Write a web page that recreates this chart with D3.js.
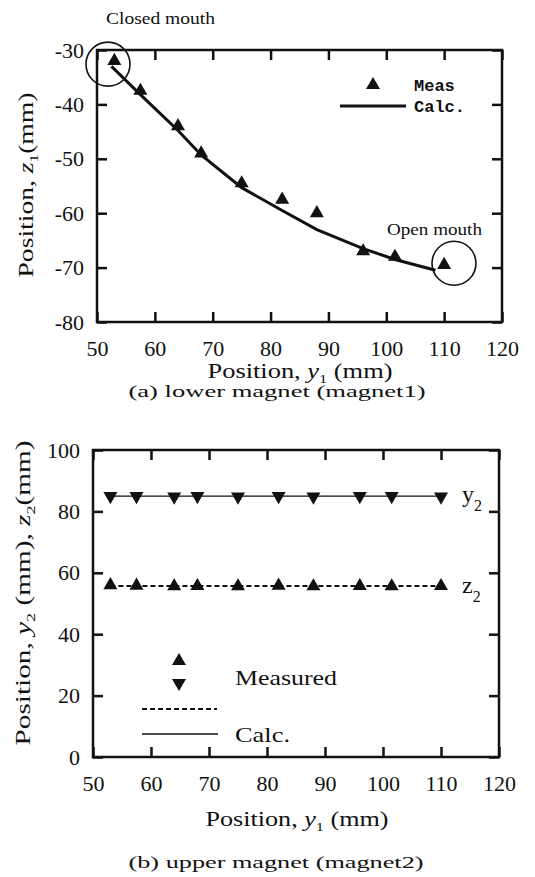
<!DOCTYPE html>
<html>
<head>
<meta charset="utf-8">
<script src="https://cdn.jsdelivr.net/npm/d3@7"></script>
<style>
  body { margin: 0; background: #fff; }
  svg text { font-family: "Liberation Serif", "Times New Roman", serif; fill: #111; }
</style>
</head>
<body>
<svg width="535" height="877"></svg>
<script>
// shared x positions (y1, mm)
const xTicks = [50, 60, 70, 80, 90, 100, 110, 120]
const measY1 = [53, 57.5, 64, 68, 75, 82, 88, 96, 101.5, 110]

// (a) lower magnet
const measZ1 = [-32, -37.5, -44, -49, -54.5, -57.5, -60, -67, -68, -69.5]
const calcY1 = [52.5, 57.5, 64, 68, 75, 82, 88, 96, 101.5, 108.5]
const calcZ1 = [-33, -38.2, -44.8, -49.3, -55.3, -59.5, -63, -66.5, -68.5, -70.5]
const z1Ticks = [-30, -40, -50, -60, -70, -80]

// (b) upper magnet
const measY2 = [85, 85, 84.8, 85, 84.8, 85, 84.8, 85, 85, 84.8]
const measZ2 = [56, 55.8, 55.6, 55.7, 55.6, 55.8, 55.6, 55.7, 55.6, 55.7]
const calcX2 = [53, 110]
const calcY2 = [85, 85]
const calcZ2 = [55.7, 55.7]
const yzTicks = [0, 20, 40, 60, 80, 100]

const svg = d3.select('svg')
const tri = d3.symbol().type(d3.symbolTriangle).size(85)
const serif = '"Liberation Serif", "Times New Roman", serif'

const frame = (x, y, ticksY) => {
  const g = svg.append('g')
  const tick = 10
  g.append('g')
   .attr('transform', `translate(0,${y.range()[0]})`)
   .call(d3.axisBottom(x).tickValues(xTicks).tickSizeInner(-tick).tickSizeOuter(0).tickPadding(18).tickFormat(d => `${d}`))
  g.append('g')
   .attr('transform', `translate(0,${y.range()[1]})`)
   .call(d3.axisTop(x).tickValues(xTicks).tickSizeInner(-tick).tickSizeOuter(0).tickFormat(''))
  g.append('g')
   .attr('transform', `translate(${x.range()[0]},0)`)
   .call(d3.axisLeft(y).tickValues(ticksY).tickSizeInner(-tick).tickSizeOuter(0).tickPadding(13).tickFormat(d => `${d}`))
  g.append('g')
   .attr('transform', `translate(${x.range()[1]},0)`)
   .call(d3.axisRight(y).tickValues(ticksY).tickSizeInner(-tick).tickSizeOuter(0).tickFormat(''))
  g.selectAll('.domain').remove()
  g.selectAll('g').attr('font-family', serif).attr('font-size', 22)
  g.selectAll('.tick line').attr('stroke', '#111').attr('stroke-width', 2.5)
  g.selectAll('.tick text').attr('fill', '#111')
  g.append('rect')
   .attr('x', x.range()[0]).attr('y', y.range()[1])
   .attr('width', x.range()[1] - x.range()[0])
   .attr('height', y.range()[0] - y.range()[1])
   .attr('fill', 'none').attr('stroke', '#111').attr('stroke-width', 2.5)
}

// axis title with subscripts, stretched to the width seen in the scan
const title = (parts, transform, len) => {
  const t = svg.append('text').attr('transform', transform)
              .attr('text-anchor', 'middle').style('font-size', '21px')
              .attr('textLength', len).attr('lengthAdjust', 'spacingAndGlyphs')
  parts.forEach(p => {
    const s = t.append('tspan').text(p.t)
    if (p.i) s.style('font-style', 'italic')
    if (p.sub) s.attr('dy', 5).style('font-size', '13px')
    if (p.up) s.attr('dy', -5)
  })
}

// ---------- panel (a) ----------
const xA = d3.scaleLinear().domain([50, 120]).range([97, 502])
const yA = d3.scaleLinear().domain([-80, -30]).range([322, 50])
frame(xA, yA, z1Ticks)

svg.append('path')
   .datum(calcY1.map((v, i) => [v, calcZ1[i]]))
   .attr('d', d3.line().x(d => xA(d[0])).y(d => yA(d[1])))
   .attr('fill', 'none').attr('stroke', '#111').attr('stroke-width', 3)

svg.append('g').selectAll('path')
   .data(measY1.map((v, i) => [v, measZ1[i]]))
   .join('path')
   .attr('d', tri)
   .attr('transform', d => `translate(${xA(d[0])},${yA(d[1])})`)
   .attr('fill', '#111')

// annotation circles
svg.append('circle').attr('cx', xA(51.9)).attr('cy', yA(-32.6)).attr('r', 22)
   .attr('fill', 'none').attr('stroke', '#111').attr('stroke-width', 1.6)
svg.append('circle').attr('cx', xA(111.7)).attr('cy', yA(-69.2)).attr('r', 22)
   .attr('fill', 'none').attr('stroke', '#111').attr('stroke-width', 1.6)
svg.append('text').text('Closed mouth').attr('x', 106).attr('y', 24).style('font-size', '17px')
   .attr('textLength', 109).attr('lengthAdjust', 'spacingAndGlyphs')
svg.append('text').text('Open mouth').attr('x', 387).attr('y', 235).style('font-size', '17px')
   .attr('textLength', 95).attr('lengthAdjust', 'spacingAndGlyphs')

// legend (a)
svg.append('path').attr('d', tri).attr('transform', 'translate(373,85)').attr('fill', '#111')
svg.append('line').attr('x1', 340).attr('x2', 406).attr('y1', 106).attr('y2', 106)
   .attr('stroke', '#111').attr('stroke-width', 3)
svg.append('text').text('Meas').attr('x', 414).attr('y', 91)
   .style('font-family', '"Liberation Mono", monospace').style('font-size', '17px').style('font-weight', 'bold')
svg.append('text').text('Calc.').attr('x', 414).attr('y', 112)
   .style('font-family', '"Liberation Mono", monospace').style('font-size', '17px').style('font-weight', 'bold')

title([{t: 'Position, '}, {t: 'y', i: true}, {t: '1', sub: true}, {t: ' (mm)', up: true}],
      'translate(300,378)', 185)
svg.append('text').text('(a) lower magnet (magnet1)')
   .attr('x', 277).attr('y', 397).attr('text-anchor', 'middle').style('font-size', '16px')
   .attr('textLength', 297).attr('lengthAdjust', 'spacingAndGlyphs')

title([{t: 'Position, '}, {t: 'z', i: true}, {t: '1', sub: true}, {t: '(mm)', up: true}],
      'translate(33,185) rotate(-90)', 185)

// ---------- panel (b) ----------
const xB = d3.scaleLinear().domain([50, 120]).range([93, 499])
const yB = d3.scaleLinear().domain([0, 100]).range([757, 450])
frame(xB, yB, yzTicks)

svg.append('path')
   .datum(calcX2.map((v, i) => [v, calcY2[i]]))
   .attr('d', d3.line().x(d => xB(d[0])).y(d => yB(d[1])))
   .attr('fill', 'none').attr('stroke', '#111').attr('stroke-width', 1.3)
svg.append('path')
   .datum(calcX2.map((v, i) => [v, calcZ2[i]]))
   .attr('d', d3.line().x(d => xB(d[0])).y(d => yB(d[1])))
   .attr('fill', 'none').attr('stroke', '#111').attr('stroke-width', 2.2)
   .attr('stroke-dasharray', '5,3')

svg.append('g').selectAll('path')
   .data(measY1.map((v, i) => [v, measY2[i]]))
   .join('path')
   .attr('d', tri)
   .attr('transform', d => `translate(${xB(d[0])},${yB(d[1])}) rotate(180)`)
   .attr('fill', '#111')
svg.append('g').selectAll('path')
   .data(measY1.map((v, i) => [v, measZ2[i]]))
   .join('path')
   .attr('d', tri)
   .attr('transform', d => `translate(${xB(d[0])},${yB(d[1])})`)
   .attr('fill', '#111')

// series labels
const seriesLabel = (ch, px, by) => {
  const t = svg.append('text').attr('x', px).attr('y', by).style('font-size', '24px')
  t.append('tspan').text(ch)
  t.append('tspan').text('2').attr('dy', 9).style('font-size', '16px')
}
seriesLabel('y', 462, 502)
seriesLabel('z', 462, 593)

// legend (b)
svg.append('path').attr('d', tri).attr('transform', 'translate(179,661)').attr('fill', '#111')
svg.append('path').attr('d', tri).attr('transform', 'translate(179,683) rotate(180)').attr('fill', '#111')
svg.append('line').attr('x1', 142).attr('x2', 217).attr('y1', 709).attr('y2', 709)
   .attr('stroke', '#111').attr('stroke-width', 2.2).attr('stroke-dasharray', '5,3')
svg.append('line').attr('x1', 142).attr('x2', 218).attr('y1', 734).attr('y2', 734)
   .attr('stroke', '#111').attr('stroke-width', 1.3)
svg.append('text').text('Measured').attr('x', 235).attr('y', 685).style('font-size', '22px')
   .attr('textLength', 102).attr('lengthAdjust', 'spacingAndGlyphs')
svg.append('text').text('Calc.').attr('x', 235).attr('y', 742).style('font-size', '22px')
   .attr('textLength', 55).attr('lengthAdjust', 'spacingAndGlyphs')

title([{t: 'Position, '}, {t: 'y', i: true}, {t: '1', sub: true}, {t: ' (mm)', up: true}],
      'translate(297,826)', 183)
svg.append('text').text('(b) upper magnet (magnet2)')
   .attr('x', 276).attr('y', 868).attr('text-anchor', 'middle').style('font-size', '16px')
   .attr('textLength', 295).attr('lengthAdjust', 'spacingAndGlyphs')

title([{t: 'Position, '}, {t: 'y', i: true}, {t: '2', sub: true}, {t: ' (mm), ', up: true},
       {t: 'z', i: true}, {t: '2', sub: true}, {t: '(mm)', up: true}],
      'translate(30,593) rotate(-90)', 305)
</script>
</body>
</html>
